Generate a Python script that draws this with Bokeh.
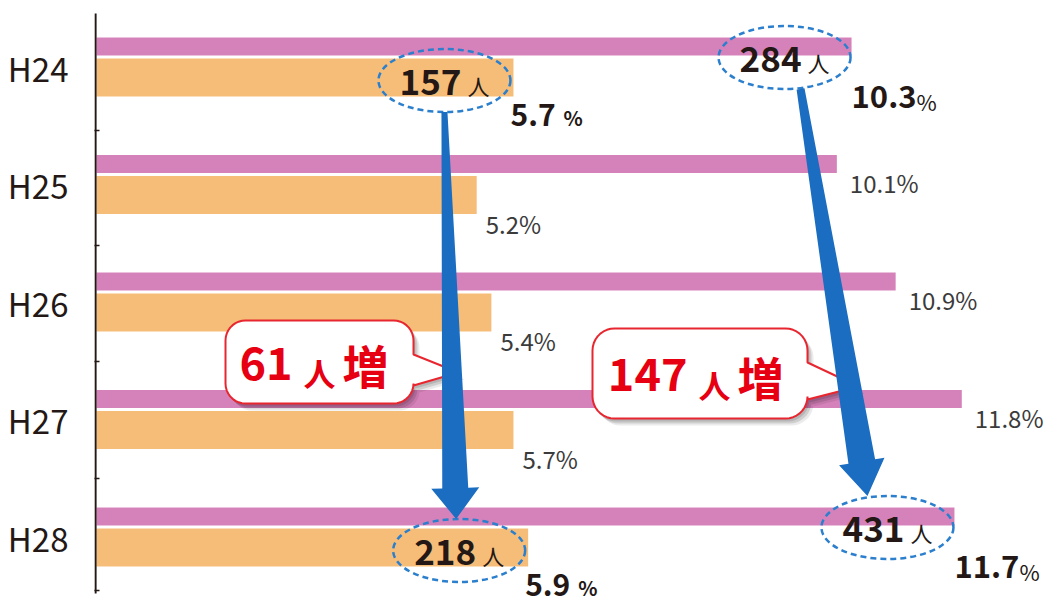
import numpy as np
from bokeh.plotting import figure
from bokeh.models import Range1d, FixedTicker, ColumnDataSource
from bokeh.embed import file_html
from bokeh.resources import INLINE
from bokeh.core.properties import value

# ---------------- data ----------------
years = ["H24", "H25", "H26", "H27", "H28"]
pink_pct = [10.3, 10.1, 10.9, 11.8, 11.7]
orange_pct = [5.7, 5.2, 5.4, 5.7, 5.9]
pink_count_ends = [284, 431]     # people, H24 and H28
orange_count_ends = [157, 218]   # people, H24 and H28

# ---------------- style / layout ----------------
W, H = 1048, 604
FONT_NAME = "Noto Sans CJK JP"
FONT = value(FONT_NAME)
PINK = "#d682ba"
ORANGE = "#f6bd79"
ARROW = "#1a6dc0"
DASH = "#2b7fcd"
INK = "#231815"
GREY_TXT = "#3b3b3b"
RED = "#e60012"
RED_LINE = "#e8262f"

X0_PX, Y0_PX = 95, 14      # pixel of value 0 / top of first band
PXX, PXY = 73.5, 117.5     # pixels per percent / per band
FRAME_L, FRAME_T = 94, 12

def xd(px): return (px - X0_PX) / PXX
def yd(py): return (py - Y0_PX) / PXY
def xp(x): return X0_PX + x * PXX
def yp(y): return Y0_PX + y * PXY

PINK_C, PINK_H = (46 - 14) / PXY, 20 / PXY
ORANGE_C, ORANGE_H = (77 - 14) / PXY, 40 / PXY
LABEL_C = (67 - 14) / PXY

p = figure(width=W, height=H,
           x_range=Range1d(xd(FRAME_L), xd(W)),
           y_range=Range1d(yd(H), yd(FRAME_T)),
           output_backend="svg", toolbar_location=None,
           x_axis_location=None, y_axis_location="left",
           min_border_left=FRAME_L, min_border_right=0,
           min_border_top=FRAME_T, min_border_bottom=0,
           background_fill_color="white", border_fill_color="white")
p.outline_line_color = None
p.grid.visible = False

idx = np.arange(len(years))
n = len(years)

# ---- y axis: category labels + small inward ticks between bands ----
label_y = [float(i + LABEL_C) for i in idx]
tick_px = [130, 245, 361, 478, 590]
ax = p.yaxis[0]
ax.ticker = FixedTicker(ticks=label_y, minor_ticks=[yd(v) for v in tick_px])
ax.major_label_overrides = {ly: yr for ly, yr in zip(label_y, years)}
ax.axis_line_color = None
ax.major_tick_line_color = None
ax.major_tick_in = 0
ax.major_tick_out = 0
ax.minor_tick_in = 5
ax.minor_tick_out = 0
ax.minor_tick_line_color = INK
ax.minor_tick_line_width = 1.5
ax.major_label_standoff = 26
ax.major_label_text_font = FONT_NAME
ax.major_label_text_font_size = "33px"
ax.major_label_text_color = INK

# ---- bars ----
src = ColumnDataSource(dict(y_p=idx + PINK_C, y_o=idx + ORANGE_C,
                            pink=pink_pct, orange=orange_pct))
p.hbar(y="y_p", left=0, right="pink", height=PINK_H, source=src,
       fill_color=PINK, line_color="white", line_width=2)
p.hbar(y="y_o", left=0, right="orange", height=ORANGE_H, source=src,
       fill_color=ORANGE, line_color="white", line_width=2)

# axis line
p.segment(x0=[0], y0=[yd(13)], x1=[0], y1=[yd(593)], line_color=INK, line_width=2.2)

def txt(x, y, t, xo, yo, size, color=INK, bold=False, align="left"):
    p.text(x=x, y=y, text=t, x_offset=xo, y_offset=yo, text_baseline="middle",
           text_align=align, text_font=FONT, text_font_size=size,
           text_font_style="bold" if bold else "normal", text_color=color)

# ---- regular value labels (middle years) ----
mid = list(idx[1:-1])
txt([pink_pct[i] for i in mid], [i + PINK_C for i in mid],
    [f"{pink_pct[i]:.1f}%" for i in mid], 12, 18, "24px", GREY_TXT)
txt([orange_pct[i] for i in mid], [i + ORANGE_C for i in mid],
    [f"{orange_pct[i]:.1f}%" for i in mid], 8, 28, "24px", GREY_TXT)

# ---- bold value labels (first and last year) ----
ends = [0, n - 1]
px_ = [pink_pct[i] for i in ends]
ox_ = [orange_pct[i] for i in ends]
oy_ = [i + ORANGE_C for i in ends]
txt(px_, oy_, [f"{v:.1f}" for v in px_], -1, 19, "31px", bold=True)
txt(px_, oy_, ["%", "%"], 64, 23, "22px")
txt(ox_, oy_, [f"{v:.1f}" for v in ox_], -4, 37, "30px", bold=True)
txt(ox_, oy_, ["%", "%"], 49, 40, "20px", bold=True)

# ---- dashed ellipses with head-counts ----
ELL_W, ELL_H = 132, 63
pk_ex = [pink_pct[i] - 68 / PXX for i in ends]
pk_ey = [i + PINK_C + 11 / PXY for i in ends]
or_ex = [orange_pct[i] - 70 / PXX for i in ends]
or_ey = [i + ORANGE_C + 3 / PXY for i in ends]

for ex, ey, counts in [(pk_ex, pk_ey, pink_count_ends), (or_ex, or_ey, orange_count_ends)]:
    p.ellipse(x=ex, y=ey, width=ELL_W / PXX, height=ELL_H / PXY,
              fill_color=None, line_color=DASH, line_width=2.5, line_dash="6 4")
    txt(ex, ey, [str(c) for c in counts], 17, 1, "35px", bold=True, align="right")
    txt(ex, ey, ["人", "人"], 23, 4, "22px")

# ---- callout bubbles ----
def bubble_pts(l, t, r, b, rad, ty0, ty1, axp, ayp):
    pts = []
    def arc(cx, cy, a0, a1):
        for a in np.linspace(a0, a1, 10):
            pts.append((cx + rad * np.cos(a), cy + rad * np.sin(a)))
    arc(l + rad, t + rad, np.pi, 1.5 * np.pi)
    arc(r - rad, t + rad, -0.5 * np.pi, 0)
    pts += [(r, ty0), (axp, ayp), (r, ty1)]
    arc(r - rad, b - rad, 0, 0.5 * np.pi)
    arc(l + rad, b - rad, 0.5 * np.pi, np.pi)
    return pts

bubbles = [
    dict(l=225, t=320, r=413, b=403, rad=20, ty0=354, ty1=385, axp=458, ayp=372, tx=292,
         num=orange_count_ends[1] - orange_count_ends[0]),
    dict(l=592, t=328, r=807, b=418, rad=22, ty0=362, ty1=399, axp=858, ayp=386, tx=687,
         num=pink_count_ends[1] - pink_count_ends[0]),
]
for bb in bubbles:
    pts = bubble_pts(bb["l"], bb["t"], bb["r"], bb["b"], bb["rad"],
                     bb["ty0"], bb["ty1"], bb["axp"], bb["ayp"])
    for (ox, oy, al) in [(6, 7, 0.08), (4, 5, 0.12), (2, 3, 0.12)]:
        p.patch([xd(x + ox) for x, _ in pts], [yd(y + oy) for _, y in pts],
                fill_color="#000000", fill_alpha=al, line_color=None)
    p.patch([xd(x) for x, _ in pts], [yd(y) for _, y in pts],
            fill_color="white", line_color=RED_LINE, line_width=2)
    cx, cy = [xd(bb["tx"])], [yd((bb["t"] + bb["b"]) / 2)]
    txt(cx, cy, [str(bb["num"])], 0, 1, "45px", RED, bold=True, align="right")
    txt(cx, cy, ["人"], 11, 10, "32px", RED, bold=True)
    txt(cx, cy, ["増"], 50, 2, "46px", RED, bold=True)

# ---- arrows from H24 counts to H28 counts ----
def arrow_pts(S, T, w0, w1, hl, hw):
    S = np.array(S, float); T = np.array(T, float)
    d = T - S
    u = d / np.hypot(*d)
    nv = np.array([-u[1], u[0]])
    neck = T - u * hl
    return [S + nv * w0 / 2, neck + nv * w1 / 2, neck + nv * hw / 2, T,
            neck - nv * hw / 2, neck - nv * w1 / 2, S - nv * w0 / 2]

arrows = [
    (or_ex, or_ey, 0, -3, 6, 26, 31, 48),
    (pk_ex, pk_ey, 16, -20, 8, 27, 35, 46),
]
for ex, ey, sdx, tdx, w0, w1, hl, hw in arrows:
    S = (xp(ex[0]) + sdx, yp(ey[0]) + ELL_H / 2)
    T = (xp(ex[1]) + tdx, yp(ey[1]) - ELL_H / 2)
    pts = arrow_pts(S, T, w0, w1, hl, hw)
    p.patch([xd(q[0]) for q in pts], [yd(q[1]) for q in pts],
            fill_color=ARROW, line_color=None)

open("out.html", "w").write(file_html(p, INLINE))
